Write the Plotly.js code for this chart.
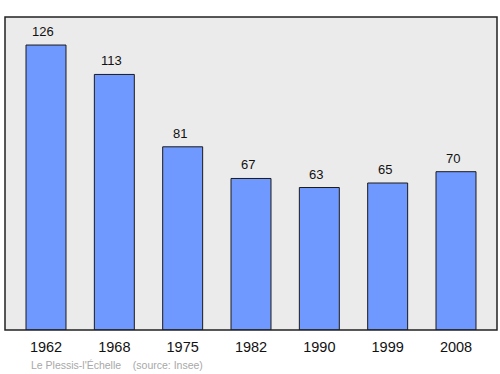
<!DOCTYPE html>
<html><head><meta charset="utf-8">
<script src="https://cdn.plot.ly/plotly-3.0.1.min.js"></script>
<style>body{margin:0;padding:0;background:#fff}#chart{width:500px;height:374px}</style>
</head><body><div id="chart"></div>
<script>
const years = ['1962','1968','1975','1982','1990','1999','2008'];
const population = [126, 113, 81, 67, 63, 65, 70];
const sourceText = "Le Plessis-l'Échelle    (source: Insee)";

const trace = {
  type: 'bar', x: years, y: population,
  width: 0.585,
  marker: {color: '#7099ff', line: {color: '#1a1a1a', width: 1}},
  hoverinfo: 'none'
};
const annotations = years.map((yr, i) => ({
  x: i, y: population[i], xref: 'x', yref: 'y', text: String(population[i]),
  showarrow: false, yanchor: 'bottom', yshift: 4, xshift: -3,
  font: {family: 'Liberation Sans, Arial, sans-serif', size: 13, color: '#111'}
}));
annotations.push({
  xref: 'paper', yref: 'paper', x: 24/492, y: 0, yshift: -27, xanchor: 'left', yanchor: 'top',
  text: sourceText, showarrow: false,
  font: {family: 'Liberation Sans, Arial, sans-serif', size: 10.5, color: '#a8a8a8'}
});
const layout = {
  width: 500, height: 374,
  margin: {l: 5, r: 3, t: 17, b: 44, pad: 0},
  paper_bgcolor: '#ffffff', plot_bgcolor: '#ebebeb',
  showlegend: false,
  xaxis: {type: 'category', range: [-0.6, 6.6], showgrid: false, zeroline: false, showline: false,
    ticks: '', ticklabelstandoff: 6, tickfont: {family: 'Liberation Sans, Arial, sans-serif', size: 14.5, color: '#111'}},
  yaxis: {range: [0, 138.4], showgrid: false, zeroline: false, showticklabels: false, showline: false, ticks: ''},
  annotations: annotations,
  shapes: [{type: 'rect', xref: 'paper', yref: 'paper', x0: 0, x1: 1, y0: 0, y1: 1,
    line: {color: '#222', width: 1.5}, fillcolor: 'rgba(0,0,0,0)', layer: 'above'}]
};
Plotly.newPlot('chart', [trace], layout, {staticPlot: true, displayModeBar: false});
</script></body></html>
